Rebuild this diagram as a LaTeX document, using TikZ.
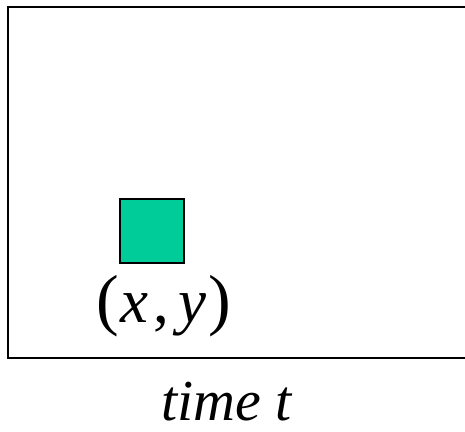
\documentclass[tikz,border=0pt]{standalone}
\usepackage{fontspec}
\setmainfont{Liberation Serif}
\definecolor{boxgreen}{HTML}{00CC99}
\newcommand{\bigpar}[1]{{\fontsize{68}{70}\selectfont #1}}
\begin{document}
\begin{tikzpicture}[x=1pt,y=1pt,
  lbl/.style={inner sep=0pt,font=\fontsize{58}{60}\selectfont}]
\useasboundingbox (0,0) rectangle (465,431);
\begin{scope}
\clip (0,0) rectangle (465,431);
\draw[line width=2pt] (8,424) rectangle (472,73);
\end{scope}
\node[draw,line width=1.3pt,fill=boxgreen,minimum size=64pt,inner sep=0pt] (obj) at (152,200) {};
\node[lbl,anchor=base west] (pos) at (96,109) {\bigpar{(}\kern2pt{\fontsize{63}{64}\selectfont\textit{x}\kern5pt,\kern9pt\textit{y}}\kern2pt\bigpar{)}};
\node[lbl,anchor=base] (time) at (227,11) {\textit{time t}};
\end{tikzpicture}
\end{document}
